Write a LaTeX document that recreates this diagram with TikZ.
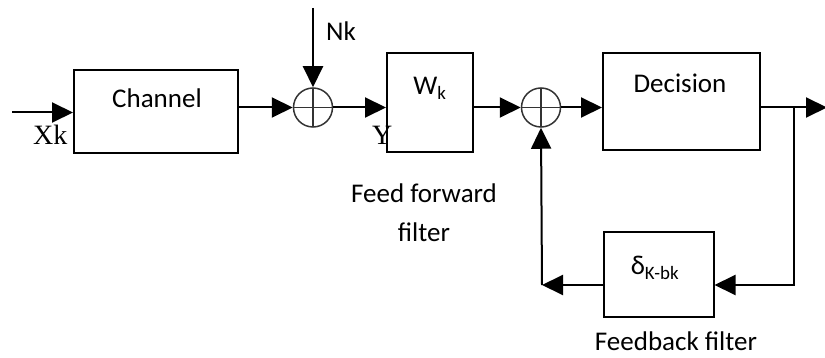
\documentclass[tikz,border=0pt]{standalone}
\usepackage{fontspec}
\setmainfont{Carlito}
\newfontfamily\timesfont{Liberation Serif}
\usetikzlibrary{arrows.meta, positioning, calc}

\begin{document}
\begin{tikzpicture}[x=1pt, y=-1pt, every node/.style={font=\fontsize{27}{32}\selectfont}]
  \tikzstyle{block}=[rectangle, draw=black, line width=2pt, inner sep=0pt]
  \tikzstyle{adder}=[circle, draw=black!80, line width=1.5pt, inner sep=0pt, minimum size=39pt,
    path picture={\draw[black!80, line width=1.5pt] (path picture bounding box.north) -- (path picture bounding box.south)
      (path picture bounding box.west) -- (path picture bounding box.east);}]
  \tikzstyle{sig}=[-{Triangle[length=21pt, width=20pt]}, line width=2pt, draw=black]
  \tikzstyle{caption}=[inner sep=0pt, anchor=base]

  \useasboundingbox (0,0) rectangle (825,358);

  % blocks
  \node[block, minimum width=164pt, minimum height=83pt] (chan) at (156,111.5) {};
  \node[block, minimum width=86pt, minimum height=99pt] (ffw) at (430,102.5) {};
  \node[block, minimum width=157pt, minimum height=97pt] (dec) at (681.5,101.5) {};
  \node[block, minimum width=110pt, minimum height=85pt] (fbk) at (658.5,274.5) {};
  \node[adder] (sumA) at (313,107.5) {};
  \node[adder] (sumB) at (541,107.5) {};

  % texts
  \node[caption] (chantxt) at (157,108) {Channel};
  \node[caption] (ffwtxt) at (430,95) {W\textsubscript{k}};
  \node[caption] (dectxt) at (680,93) {Decision};
  \node[caption] (fbktxt) at (655,275) {δ\textsubscript{K-bk}};
  \node[caption, anchor=base west] (nk) at (326,41) {Nk};
  \node[caption, anchor=base west, font=\fontsize{28}{32}\timesfont] (xk) at (33,145) {Xk};
  \node[caption, anchor=base west, font=\fontsize{28}{32}\timesfont] (yk) at (372,145) {Y};
  \node[caption] (fftxt1) at (424,203) {Feed forward};
  \node[caption] (fftxt2) at (424,242) {filter};
  \node[caption] (fbtxt) at (676,350) {Feedback filter};

  % coordinates
  \coordinate (xin) at (12,112.5);
  \coordinate (nin) at (313,8);
  \coordinate (yout) at (827,107.5);
  \coordinate (tap) at (794,107.5);
  \coordinate (corner) at (542,285);

  % signal path
  \draw[sig] (xin) -- (chan.west |- xin);
  \draw[sig] (chan.east |- sumA) -- (sumA.west);
  \draw[sig] (nin) -- (sumA.north);
  \draw[sig] (sumA.east) -- (ffw.west |- sumA);
  \draw[sig] (ffw.east |- sumB) -- (sumB.west);
  \draw[sig] (sumB.east) -- (dec.west |- sumB);
  \draw[sig] (dec.east |- yout) -- (yout);

  % feedback loop
  \draw[sig] (tap) |- (fbk.east |- corner);
  \draw[sig] (fbk.west |- corner) -- (corner);
  \draw[sig] (corner) -- (sumB.south);
\end{tikzpicture}
\end{document}
